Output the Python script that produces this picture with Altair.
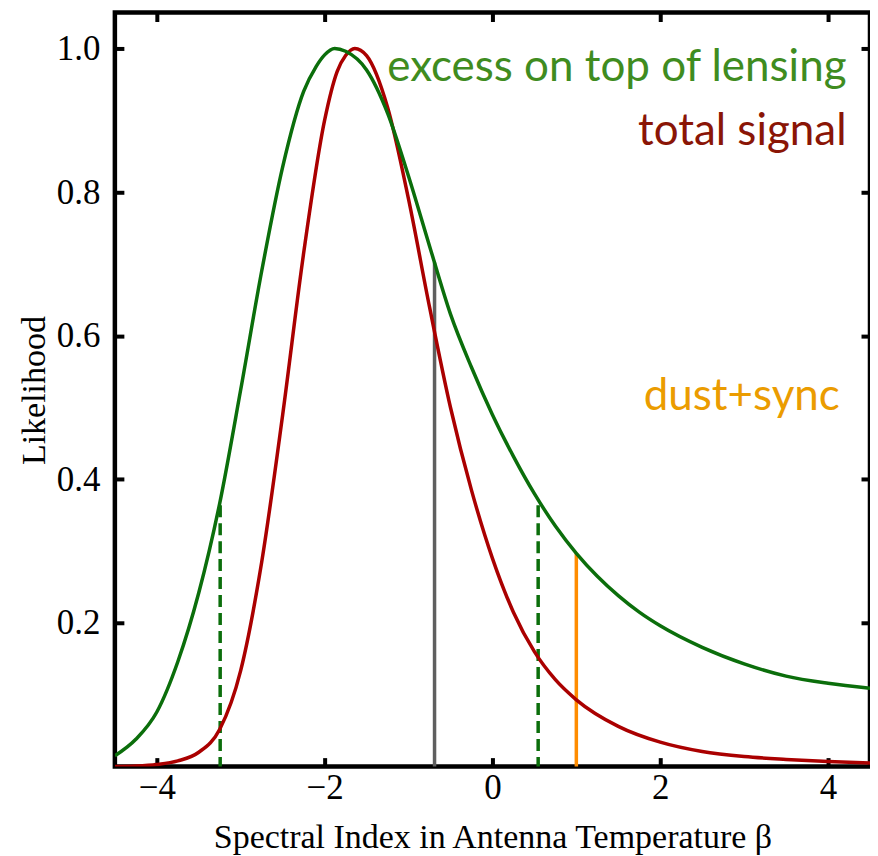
import altair as alt
import pandas as pd

# ---- data ----
beta_excess = [-4.5, -4.25, -4.0, -3.75, -3.5, -3.25, -3.0, -2.75, -2.5, -2.25, -2.1,
               -2.0, -1.88, -1.75, -1.5, -1.25, -1.0, -0.75, -0.5, -0.25, 0.0, 0.25,
               0.5, 0.75, 1.0, 1.25, 1.5, 1.75, 2.0, 2.5, 3.0, 3.5, 4.0, 4.5]
like_excess = [0.015, 0.038, 0.076, 0.146, 0.242, 0.367, 0.525, 0.690, 0.835, 0.940, 0.975,
               0.991, 1.000, 0.996, 0.970, 0.910, 0.822, 0.725, 0.630, 0.556, 0.490, 0.432,
               0.380, 0.335, 0.297, 0.265, 0.238, 0.215, 0.196, 0.166, 0.143, 0.126, 0.116,
               0.109]

beta_total = [-4.5, -4.25, -4.0, -3.75, -3.5, -3.25, -3.0, -2.75, -2.5, -2.25, -2.0,
              -1.85, -1.75, -1.64, -1.5, -1.25, -1.0, -0.75, -0.5, -0.25, 0.0, 0.25,
              0.5, 0.75, 1.0, 1.5, 2.0, 2.5, 3.0, 3.5, 4.0, 4.5]
like_total = [0.0, 0.0008, 0.003, 0.008, 0.020, 0.052, 0.134, 0.285, 0.490, 0.715, 0.900,
              0.968, 0.990, 1.000, 0.990, 0.918, 0.790, 0.640, 0.500, 0.385, 0.290, 0.215,
              0.160, 0.121, 0.093, 0.056, 0.034, 0.021, 0.014, 0.010, 0.007, 0.005]

marker_beta = [-3.245, 0.545, -0.69, 1.0]
marker_top = [0.364, 0.364, 0.702, 0.297]
marker_color = ["#0b6e0b", "#0b6e0b", "#5f5f5f", "#ff8c00"]
marker_dashed = [True, True, False, False]

label_text = ["excess on top of lensing", "total signal", "dust+sync"]
label_beta = [4.22, 4.22, 4.14]
label_like = [0.954, 0.866, 0.496]
label_color = ["#3f8c1f", "#8a1506", "#eb9c00"]

x_ticks = [-4, -2, 0, 2, 4]
y_ticks = [0.2, 0.4, 0.6, 0.8, 1.0]

# ---- tables ----
df_excess = pd.DataFrame({"beta": beta_excess, "like": like_excess})
df_total = pd.DataFrame({"beta": beta_total, "like": like_total})
df_mark = pd.DataFrame({"beta": marker_beta, "top": marker_top, "color": marker_color,
                        "dashed": marker_dashed, "base": [0.0] * len(marker_beta)})
df_label = pd.DataFrame({"text": label_text, "beta": label_beta, "like": label_like,
                         "color": label_color})

xs = alt.Scale(domain=[-4.5, 4.5], nice=False, zero=False)
ys = alt.Scale(domain=[0, 1.05], nice=False, zero=False)

SERIF = "Liberation Serif"
TICK = dict(offset=-9, tickSize=9, tickWidth=4, tickColor="black", domain=False, grid=False)

x_bottom = alt.Axis(orient="bottom", values=x_ticks, labelFont=SERIF, labelFontSize=35,
                    labelColor="black", labelPadding=4, format="d",
                    title="Spectral Index in Antenna Temperature β", titleFont=SERIF,
                    titleFontSize=34, titleFontWeight="normal", titleColor="black",
                    titleY=90, titleBaseline="alphabetic", **TICK)
y_left = alt.Axis(orient="left", values=y_ticks, format=".1f", labelFont=SERIF,
                  labelFontSize=35, labelColor="black", labelPadding=15,
                  title="Likelihood", titleFont=SERIF, titleFontSize=34,
                  titleFontWeight="normal", titleColor="black", titleX=-89, titleY=378,
                  titleAngle=270, titleBaseline="middle", titleAlign="center", **TICK)
x_top = alt.Axis(orient="top", values=x_ticks, labels=False, title=None, **TICK)
y_right = alt.Axis(orient="right", values=y_ticks, labels=False, title=None, **TICK)

excess = alt.Chart(df_excess).mark_line(color="#0b6e0b", strokeWidth=3.5,
                                        interpolate="monotone", clip=True).encode(
    x=alt.X("beta:Q", scale=xs, axis=x_bottom),
    y=alt.Y("like:Q", scale=ys, axis=y_left),
)

total = alt.Chart(df_total).mark_line(color="#aa0000", strokeWidth=3.5,
                                      interpolate="monotone", clip=True).encode(
    x=alt.X("beta:Q", scale=xs, axis=None),
    y=alt.Y("like:Q", scale=ys, axis=None),
)

solid = alt.Chart(df_mark).transform_filter("!datum.dashed").mark_rule(strokeWidth=3.5).encode(
    x=alt.X("beta:Q", scale=xs, axis=None),
    y=alt.Y("base:Q", scale=ys, axis=None),
    y2="top:Q",
    color=alt.Color("color:N", scale=None),
)

dashed = alt.Chart(df_mark).transform_filter("datum.dashed").mark_rule(
    strokeWidth=3.5, strokeDash=[12, 6]).encode(
    x=alt.X("beta:Q", scale=xs, axis=None),
    y=alt.Y("top:Q", scale=ys, axis=None),
    y2="base:Q",
    color=alt.Color("color:N", scale=None),
)

labels = alt.Chart(df_label).mark_text(align="right", baseline="alphabetic",
                                       font="Lato", fontSize=44).encode(
    x=alt.X("beta:Q", scale=xs, axis=x_top),
    y=alt.Y("like:Q", scale=ys, axis=y_right),
    text="text:N",
    color=alt.Color("color:N", scale=None),
)

chart = alt.layer(solid, dashed, total, excess, labels).resolve_axis(
    x="independent", y="independent"
).properties(
    width=756, height=755,
    autosize=alt.AutoSizeParams(type="none"),
    padding={"left": 107, "top": 4, "right": 0, "bottom": 92},
).configure_view(stroke="black", strokeWidth=4.5)

chart.save("out.html", embed_options={"renderer": "svg", "actions": False})
